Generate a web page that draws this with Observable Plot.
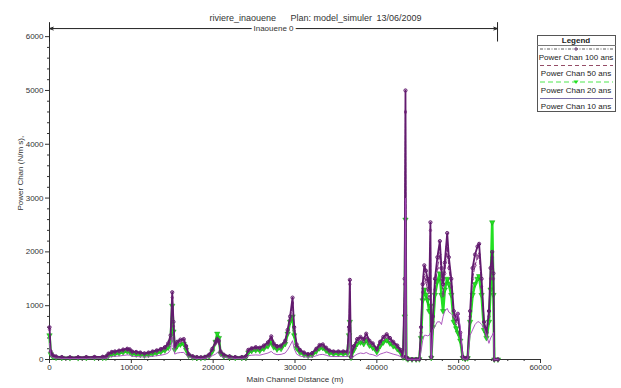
<!DOCTYPE html>
<html><head><meta charset="utf-8">
<script src="https://cdn.jsdelivr.net/npm/d3@7"></script>
<script src="https://cdn.jsdelivr.net/npm/@observablehq/plot@0.6"></script>
<style>
body{margin:0;background:#fff;}
#wrap{position:relative;width:621px;height:388px;font-family:"Liberation Sans",Arial,sans-serif;}
#wrap svg{position:absolute;left:0;top:0;}
</style>
</head><body><div id="wrap"></div>
<script>
// Main channel distance (m)
const dist = [0,150,400,800,1500,2500,3500,4500,5500,6500,6900,7200,7600,8000,8500,9000,9500,9800,10100,10600,11100,11600,12100,12600,13100,13600,14100,14500,14800,15000,15150,15300,15600,16000,16400,16700,17000,17500,18000,18500,19000,19500,19900,20300,20500,20700,20900,21300,22000,22700,23500,24000,24300,24700,25200,25700,26200,26700,27100,27400,27800,28300,28800,29100,29400,29700,29900,30200,30600,31100,31600,32100,32600,33000,33400,33800,34200,34700,35300,35900,36400,36600,36700,36850,37200,37600,38000,38400,38700,39100,39500,40000,40400,40800,41200,41600,42000,42500,42900,43200,43400,43500,43600,43800,44300,44800,45200,45400,45600,45800,46000,46200,46400,46550,46650,46850,47100,47400,47700,47900,48100,48300,48600,48800,49100,49400,49700,49900,50200,50500,50800,51100,51400,51700,52000,52300,52500,52800,53100,53400,53700,53900,54100,54250,54350,54800];
const p100 = [600,150,80,55,45,40,42,45,48,50,55,110,140,150,165,185,200,190,150,140,130,115,130,150,170,195,230,300,450,1250,700,250,330,370,380,250,100,60,45,40,50,90,200,330,380,350,150,90,60,45,45,60,180,210,230,220,260,320,430,300,250,260,350,550,800,1150,600,280,180,130,100,120,200,270,280,220,170,150,150,150,150,600,1480,50,250,380,420,380,480,350,300,200,330,420,470,400,330,260,180,60,1500,5000,40,10,5,5,10,600,1400,1750,1650,1500,1300,2550,50,800,1500,1900,2200,1700,1400,1800,2350,1900,1500,900,750,850,500,50,20,40,900,1700,1950,2100,2150,1500,700,500,900,1700,2000,1600,0,0];
const p50 = [560,130,70,50,40,36,38,40,42,45,48,95,125,135,148,165,180,170,135,125,115,102,115,135,152,175,205,270,400,1150,620,220,300,340,350,220,90,55,40,36,45,80,180,300,360,320,135,80,55,40,40,55,160,190,205,200,235,290,390,270,225,235,320,500,740,1050,540,250,160,115,90,105,180,245,250,200,150,135,135,135,135,550,1400,45,220,340,380,340,420,310,270,180,300,380,420,360,300,235,160,55,1400,4600,35,8,4,4,8,500,1250,1550,1450,1300,1150,2400,40,700,1300,1700,1950,1500,1200,1600,2100,1700,1350,800,680,750,450,40,15,35,800,1500,1750,1900,1950,1350,620,450,800,1500,1900,1500,0,0];
const p20 = [450,100,50,35,30,28,28,30,32,32,35,70,95,105,118,135,150,140,105,95,88,78,90,105,120,140,170,220,330,1000,520,180,250,280,290,180,70,40,30,28,35,60,150,330,480,400,110,60,40,30,30,40,130,160,175,165,200,250,330,230,190,200,290,480,700,800,450,210,130,90,70,85,150,210,215,165,120,105,105,105,110,450,700,35,180,290,320,290,360,260,220,140,250,320,360,300,250,195,130,40,800,2600,25,5,3,3,5,400,1100,1300,1200,1100,900,1000,30,600,1200,1450,1600,1200,900,1300,1500,1400,1200,700,580,500,350,30,10,25,700,1200,1400,1500,1550,1200,550,400,700,1300,2550,1200,0,0];
const p10 = [300,60,35,25,20,18,18,20,22,22,25,40,55,60,65,75,85,80,60,55,50,45,50,60,70,80,95,120,180,420,250,100,120,130,130,90,40,25,20,18,22,35,70,100,130,110,60,40,25,20,20,25,70,80,85,80,100,120,150,110,90,95,120,180,260,350,200,100,65,50,40,45,70,90,95,80,60,55,55,55,55,200,500,20,60,100,120,110,130,100,90,60,100,120,140,120,100,80,55,25,200,3000,10,3,2,2,3,150,350,450,450,440,450,500,20,550,620,700,700,650,800,900,950,880,850,800,750,880,600,20,5,15,450,550,650,700,700,650,580,450,300,400,450,500,0,0];

const seriesNames = ["Power Chan 100 ans","Power Chan 50 ans","Power Chan 20 ans","Power Chan 10 ans"];
const yTicks = [0,1000,2000,3000,4000,5000,6000];
const xTicks = [0,10000,20000,30000,40000,50000,60000];
const reachName = "Inaouene 0";
const reachStart = 0, reachEnd = 54750;
const titleParts = ["riviere_inaouene","Plan: model_simuler","13/06/2009"];

const c100 = "#621a6e", c50 = "#7d2a80", c20 = "#22e022", c10 = "#a448b8";
const rows = arr => dist.map((d,i)=>({d, v: arr[i]}));
const r100 = rows(p100), r50 = rows(p50), r20 = rows(p20), r10 = rows(p10);
const yMinor = d3.range(0, 6001, 200).filter(v => v % 1000);
const xMinor = d3.range(0, 60001, 2000).filter(v => v % 10000);
const ink = "#333";
const FONT = "Liberation Sans, Arial, sans-serif";
const blank = () => "";

const chart = Plot.plot({
  width: 621, height: 388,
  marginLeft: 49, marginRight: 81, marginTop: 27, marginBottom: 29,
  style: {fontFamily: FONT, background: "white", color: ink},
  x: {domain: [0, 60000]},
  y: {domain: [0, 6170]},
  marks: [
    Plot.axisY({ticks: yTicks, tickSize: 4, fontSize: 8, tickPadding: 2, stroke: ink, label: null, tickFormat: d => String(d)}),
    Plot.axisY({ticks: yMinor, tickSize: 2, tickFormat: blank, stroke: ink, label: null}),
    Plot.axisX({ticks: xTicks, tickSize: 4, fontSize: 8, tickPadding: 1, tickFormat: d => String(d), stroke: ink, label: null}),
    Plot.axisX({ticks: xMinor, tickSize: 2, tickFormat: blank, stroke: ink, label: null}),
    Plot.ruleX([0], {y1: 0, y2: 6170, stroke: ink}),
    Plot.ruleY([0], {stroke: ink}),
    // series
    Plot.line(r20, {x: "d", y: "v", stroke: c20, strokeWidth: 2.6}),
    Plot.dot(r20, {x: "d", y: "v", r: 2, symbol: "triangle", fill: c20, stroke: "#1aa01a", strokeWidth: 0.5, rotate: 180}),
    Plot.line(r50, {x: "d", y: "v", stroke: c50, strokeWidth: 1, strokeDasharray: "4,2"}),
    Plot.dot(r50, {x: "d", y: "v", r: 1.3, symbol: "diamond", stroke: c50, strokeWidth: 0.8}),
    Plot.line(r100, {x: "d", y: "v", stroke: c100, strokeWidth: 1.8}),
    Plot.dot(r100, {x: "d", y: "v", r: 1.6, stroke: c100, strokeWidth: 1}),
    Plot.line(r10, {x: "d", y: "v", stroke: c10, strokeWidth: 0.9}),
    // reach arrow
    Plot.arrow([{a: (reachStart+reachEnd)/2, b: reachStart}, {a: (reachStart+reachEnd)/2, b: reachEnd}],
      {x1: "a", x2: "b", y1: 6150, y2: 6150, stroke: "#222", strokeWidth: 1, headLength: 6, headAngle: 40}),
    Plot.ruleX([reachStart, reachEnd], {y1: 5900, y2: 6260, stroke: "#222"}),
    Plot.text([reachName], {x: (reachStart+reachEnd)/2, y: 6150, text: d => d, fontSize: 8, fill: ink, stroke: "white", strokeWidth: 5, paintOrder: "stroke"}),
    // title
    Plot.text([titleParts[0]], {frameAnchor: "top-left", dx: 160, dy: -13, text: d => d, textAnchor: "start", fontSize: 9, fill: ink}),
    Plot.text([titleParts[1]], {frameAnchor: "top-left", dx: 241, dy: -13, text: d => d, textAnchor: "start", fontSize: 9, fill: ink}),
    Plot.text([titleParts[2]], {frameAnchor: "top-left", dx: 327, dy: -13, text: d => d, textAnchor: "start", fontSize: 9, fill: ink}),
    // axis labels
    Plot.text(["Power Chan (N/m s),"], {frameAnchor: "left", dx: -29, dy: 17, rotate: -90, text: d => d, fontSize: 8, fill: ink}),
    Plot.text(["Main Channel Distance (m)"], {frameAnchor: "bottom", dx: 0, dy: 22, text: d => d, fontSize: 8, fill: ink})
  ]
});
document.getElementById("wrap").appendChild(chart);

// legend box
const lg = d3.select("#wrap").append("svg")
  .attr("width", 80).attr("height", 78)
  .style("left", "537px").style("top", "35px")
  .style("font-family", FONT);
lg.append("rect").attr("x", 0.5).attr("y", 0.5).attr("width", 78).attr("height", 76)
  .attr("fill", "white").attr("stroke", "#555");
lg.append("text").attr("x", 39).attr("y", 8).attr("text-anchor", "middle")
  .attr("font-size", 8).attr("font-weight", "bold").attr("fill", "#222").text("Legend");
lg.append("line").attr("x1", 0).attr("x2", 79).attr("y1", 10.5).attr("y2", 10.5).attr("stroke", "#777");
const lstyles = [
  {c: "#333", dash: "3,1.5,1,1.5", mark: "circle"},
  {c: "#7a2040", dash: "4,3", mark: null},
  {c: c20, dash: "5,3", mark: "tri"},
  {c: "#7a70a8", dash: null, mark: null}
];
seriesNames.forEach((n, i) => {
  const yl = 14 + i * 16.5, yt = yl + 7.5;
  const s = lstyles[i];
  const ln = lg.append("line").attr("x1", 3).attr("x2", 76).attr("y1", yl).attr("y2", yl)
    .attr("stroke", s.c).attr("stroke-width", i === 3 ? 1.2 : 0.8);
  if (s.dash) ln.attr("stroke-dasharray", s.dash);
  if (s.mark === "circle") lg.append("circle").attr("cx", 39).attr("cy", yl).attr("r", 1.3).attr("fill", "none").attr("stroke", "#5a1664").attr("stroke-width", 0.7);
  if (s.mark === "tri") lg.append("path").attr("d", `M36.5,${yl-1.5}L41.5,${yl-1.5}L39,${yl+2}Z`).attr("fill", c20);
  lg.append("text").attr("x", 39).attr("y", yt + 3).attr("text-anchor", "middle")
    .attr("font-size", 8).attr("fill", "#222").text(n);
});
</script>
</body></html>
